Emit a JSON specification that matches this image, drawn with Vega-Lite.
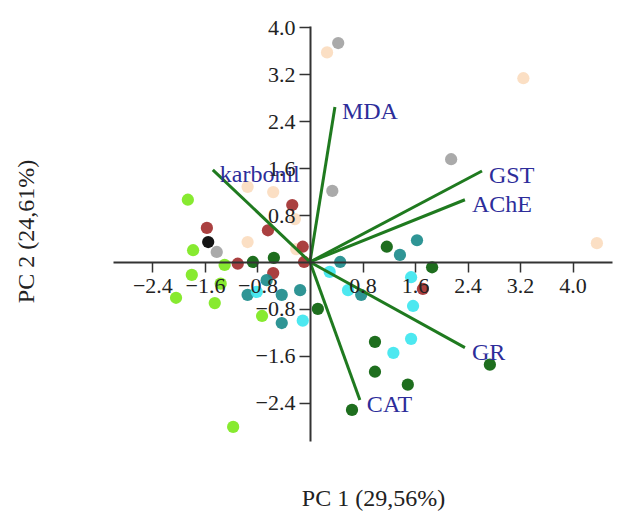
{
  "$schema": "https://vega.github.io/schema/vega-lite/v6.json",
  "width": 499,
  "height": 415,
  "autosize": "none",
  "padding": {"left": 113, "top": 26, "right": 18, "bottom": 73},
  "background": "white",
  "config": {"view": {"stroke": null}},
  "datasets": {
    "scores": [
      {"grp": "A", "pc1": 0.26, "pc2": 3.57},
      {"grp": "A", "pc1": 3.25, "pc2": 3.13},
      {"grp": "A", "pc1": 4.37, "pc2": 0.32},
      {"grp": "A", "pc1": -0.95, "pc2": 1.28},
      {"grp": "A", "pc1": -0.56, "pc2": 1.19},
      {"grp": "A", "pc1": -0.23, "pc2": 0.73},
      {"grp": "A", "pc1": -0.95, "pc2": 0.34},
      {"grp": "A", "pc1": -0.21, "pc2": 0.22},
      {"grp": "B", "pc1": 0.43, "pc2": 3.73},
      {"grp": "B", "pc1": 2.15, "pc2": 1.75},
      {"grp": "B", "pc1": 0.34, "pc2": 1.21},
      {"grp": "B", "pc1": -1.42, "pc2": 0.17},
      {"grp": "C", "pc1": -1.55, "pc2": 0.34},
      {"grp": "D", "pc1": -1.57, "pc2": 0.58},
      {"grp": "D", "pc1": -0.64, "pc2": 0.54},
      {"grp": "D", "pc1": -0.27, "pc2": 0.97},
      {"grp": "D", "pc1": -0.11, "pc2": 0.26},
      {"grp": "D", "pc1": -1.10, "pc2": -0.03},
      {"grp": "D", "pc1": -0.56, "pc2": -0.19},
      {"grp": "D", "pc1": -0.09, "pc2": 0.0},
      {"grp": "D", "pc1": 1.72, "pc2": -0.46},
      {"grp": "E", "pc1": -0.87, "pc2": 0.0},
      {"grp": "E", "pc1": -0.55, "pc2": 0.07},
      {"grp": "E", "pc1": 0.12, "pc2": -0.80},
      {"grp": "E", "pc1": 1.17, "pc2": 0.26},
      {"grp": "E", "pc1": 1.86, "pc2": -0.09},
      {"grp": "E", "pc1": 0.99, "pc2": -1.36},
      {"grp": "E", "pc1": 0.99, "pc2": -1.87},
      {"grp": "E", "pc1": 1.49, "pc2": -2.09},
      {"grp": "E", "pc1": 0.64, "pc2": -2.52},
      {"grp": "E", "pc1": 2.74, "pc2": -1.75},
      {"grp": "F", "pc1": 1.63, "pc2": 0.37},
      {"grp": "F", "pc1": 1.37, "pc2": 0.12},
      {"grp": "F", "pc1": 0.46, "pc2": 0.0},
      {"grp": "F", "pc1": 0.78, "pc2": -0.56},
      {"grp": "F", "pc1": -0.95, "pc2": -0.56},
      {"grp": "F", "pc1": -0.66, "pc2": -0.31},
      {"grp": "F", "pc1": -0.43, "pc2": -0.56},
      {"grp": "F", "pc1": -0.15, "pc2": -0.48},
      {"grp": "F", "pc1": -0.43, "pc2": -1.04},
      {"grp": "G", "pc1": 1.54, "pc2": -0.26},
      {"grp": "G", "pc1": 1.57, "pc2": -0.75},
      {"grp": "G", "pc1": 1.54, "pc2": -1.31},
      {"grp": "G", "pc1": 1.27, "pc2": -1.55},
      {"grp": "G", "pc1": 0.30, "pc2": -0.17},
      {"grp": "G", "pc1": 0.58, "pc2": -0.48},
      {"grp": "G", "pc1": -0.11, "pc2": -1.00},
      {"grp": "G", "pc1": -0.81, "pc2": -0.51},
      {"grp": "H", "pc1": -1.86, "pc2": 1.06},
      {"grp": "H", "pc1": -1.78, "pc2": 0.20},
      {"grp": "H", "pc1": -1.80, "pc2": -0.22},
      {"grp": "H", "pc1": -2.04, "pc2": -0.61},
      {"grp": "H", "pc1": -1.45, "pc2": -0.70},
      {"grp": "H", "pc1": -1.36, "pc2": -0.37},
      {"grp": "H", "pc1": -1.30, "pc2": -0.05},
      {"grp": "H", "pc1": -0.73, "pc2": -0.92},
      {"grp": "H", "pc1": -1.17, "pc2": -2.81}
    ],
    "loadings": [
      {"var": "MDA", "x0": 0, "y0": 0, "pc1": 0.38, "pc2": 2.64},
      {"var": "karbonil", "x0": 0, "y0": 0, "pc1": -1.48, "pc2": 1.57},
      {"var": "GST", "x0": 0, "y0": 0, "pc1": 2.62, "pc2": 1.55},
      {"var": "AChE", "x0": 0, "y0": 0, "pc1": 2.36, "pc2": 1.06},
      {"var": "GR", "x0": 0, "y0": 0, "pc1": 2.36, "pc2": -1.46},
      {"var": "CAT", "x0": 0, "y0": 0, "pc1": 0.76, "pc2": -2.35}
    ]
  },
  "layer": [
    {
      "data": {"name": "scores"},
      "mark": {"type": "circle", "size": 150, "opacity": 0.92},
      "encoding": {
        "x": {
          "field": "pc1", "type": "quantitative",
          "scale": {"domain": [-3.0, 4.6], "nice": false, "zero": false},
          "axis": {
            "orient": "bottom", "offset": -179, "zindex": 1,
            "values": [-2.4, -1.6, -0.8, 0.8, 1.6, 2.4, 3.2, 4.0],
            "format": ".1f", "grid": false,
            "domainColor": "#333333", "domainWidth": 2,
            "tickColor": "#333333", "tickWidth": 1.5, "tickSize": 10,
            "labelFont": "Liberation Serif", "labelFontSize": 22, "labelColor": "#222222", "labelPadding": 3,
            "title": "PC 1 (29,56%)", "titleFont": "Liberation Serif", "titleFontSize": 24,
            "titleFontWeight": "normal", "titleColor": "#222222",
            "titleX": 260, "titleY": 236, "titleBaseline": "middle", "titleAlign": "center"
          }
        },
        "y": {
          "field": "pc2", "type": "quantitative",
          "scale": {"domain": [-3.05, 4.02], "nice": false, "zero": false},
          "axis": {
            "orient": "left", "offset": -197, "zindex": 1,
            "values": [-2.4, -1.6, -0.8, 0.8, 1.6, 2.4, 3.2, 4.0],
            "format": ".1f", "grid": false,
            "domainColor": "#333333", "domainWidth": 2,
            "tickColor": "#333333", "tickWidth": 1.5, "tickSize": 11,
            "labelFont": "Liberation Serif", "labelFontSize": 22, "labelColor": "#222222", "labelPadding": 4,
            "title": "PC 2 (24,61%)", "titleFont": "Liberation Serif", "titleFontSize": 24,
            "titleFontWeight": "normal", "titleColor": "#222222",
            "titleX": -284, "titleY": 205, "titleBaseline": "middle", "titleAlign": "center", "titleAngle": -90
          }
        },
        "color": {
          "field": "grp", "type": "nominal", "legend": null,
          "scale": {
            "domain": ["A", "B", "C", "D", "E", "F", "G", "H"],
            "range": ["#fbdcbf", "#a3a3a3", "#000000", "#a33030", "#0b620b", "#1d8c8c", "#3ee6ef", "#7de81e"]
          }
        }
      }
    },
    {
      "data": {"name": "loadings"},
      "mark": {"type": "rule", "color": "#1f7a1f", "strokeWidth": 3},
      "encoding": {
        "x": {"field": "x0", "type": "quantitative"},
        "y": {"field": "y0", "type": "quantitative"},
        "x2": {"field": "pc1"},
        "y2": {"field": "pc2"}
      }
    },
    {
      "data": {"name": "loadings"},
      "mark": {"type": "text", "align": "left", "baseline": "middle", "dx": 7, "dy": 5,
               "font": "Liberation Serif", "fontSize": 24, "color": "#2d2d9a"},
      "encoding": {
        "x": {"field": "pc1", "type": "quantitative"},
        "y": {"field": "pc2", "type": "quantitative"},
        "text": {"field": "var"}
      }
    }
  ]
}
